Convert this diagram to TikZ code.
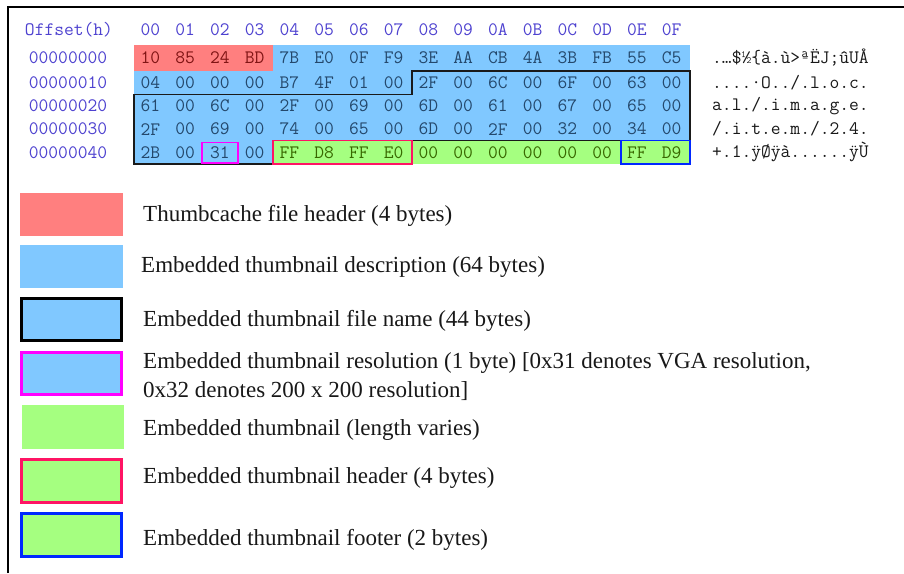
\documentclass[tikz,border=0pt]{standalone}
\usepackage{fontspec}
\setmainfont{Liberation Serif}
\definecolor{hdrblue}{RGB}{78,66,208}
\definecolor{redfill}{RGB}{255,127,127}
\definecolor{bluefill}{RGB}{128,200,255}
\definecolor{greenfill}{RGB}{165,255,128}
\definecolor{txtblue}{RGB}{36,72,108}
\definecolor{txtred}{RGB}{128,20,20}
\definecolor{txtgreen}{RGB}{56,104,0}
\definecolor{magentab}{RGB}{255,0,255}
\definecolor{crimsonb}{RGB}{255,20,100}
\definecolor{footb}{RGB}{0,40,255}
\definecolor{outlineb}{RGB}{26,26,26}
\definecolor{legtext}{RGB}{24,24,24}
\tikzset{
  x=1pt,y=-1pt,
  hex/.style={inner sep=0pt,font=\ttfamily\fontsize{19}{19}\selectfont},
  hdr/.style={hex,text=hdrblue},
  asc/.style={inner sep=0pt,anchor=west,text=legtext,font=\ttfamily\fontsize{19}{19}\selectfont\addfontfeature{LetterSpace=7}},
  offs/.style={inner sep=0pt,text=hdrblue,font=\ttfamily\fontsize{19}{19}\selectfont\addfontfeature{LetterSpace=7}},
  legbox/.style={line width=3pt},
  legtxt/.style={inner sep=0pt,anchor=base west,text=legtext,font=\fontsize{23}{29}\selectfont},
}
\begin{document}
\begin{tikzpicture}
\useasboundingbox (0,0) rectangle (904,573);
\fill[white] (0,0) rectangle (904,573);
% frame
\draw[line width=2pt,black] (8,573) -- (8,7) -- (904,7);
% region fills
\fill[redfill] (134,45) rectangle (273,71);
\fill[bluefill] (273,45) rectangle (690,71);
\fill[bluefill] (134,71) rectangle (690,140.75);
\fill[bluefill] (134,140.75) rectangle (273,164);
\fill[greenfill] (273,140.75) rectangle (690,164);
% outlines
\draw[outlineb,line width=1.4pt] (412,71) -- (690,71) -- (690,140.75) -- (273,140.75) -- (273,164) -- (134,164) -- (134,94.25) -- (412,94.25) -- cycle;
\draw[magentab,line width=1.4pt] (202,142.5) rectangle (238,163);
\draw[crimsonb,line width=1.4pt] (273,140.75) rectangle (412,164);
\draw[footb,line width=1.4pt] (621,140.75) rectangle (690,164);
% header
\node[offs] (offh) at (69,30) {Offset(h)};
\foreach \h [count=\c from 0] in {00,01,02,03,04,05,06,07,08,09,0A,0B,0C,0D,0E,0F}
  \node[hdr] (h\c) at ({134+34.75*(\c+0.5)-1},30) {\h};
% bytes
\foreach \r/\y/\bytes in {
  0/58/{10,85,24,BD,7B,E0,0F,F9,3E,AA,CB,4A,3B,FB,55,C5},
  1/82.6/{04,00,00,00,B7,4F,01,00,2F,00,6C,00,6F,00,63,00},
  2/105.9/{61,00,6C,00,2F,00,69,00,6D,00,61,00,67,00,65,00},
  3/129.1/{2F,00,69,00,74,00,65,00,6D,00,2F,00,32,00,34,00},
  4/152.4/{2B,00,31,00,FF,D8,FF,E0,00,00,00,00,00,00,FF,D9}}{
  \node[offs] (off\r) at (68,\y) {000000\r0};
  \foreach \b [count=\c from 0] in \bytes {
    \ifnum\r=0
      \ifnum\c<4 \def\tc{txtred}\else\def\tc{txtblue}\fi
    \else
      \ifnum\r=4
        \ifnum\c>3 \def\tc{txtgreen}\else\def\tc{txtblue}\fi
      \else\def\tc{txtblue}\fi
    \fi
    \node[hex,text=\tc] (b\r-\c) at ({134+34.75*(\c+0.5)-1},\y) {\b};
  }
}
% ascii column
\node[asc] (asc0) at (712,58) {.…\$½\{à.ù>ªËJ;ûUÅ};
\node[asc] (asc1) at (712,82.6) {....·O../.l.o.c.};
\node[asc] (asc2) at (712,105.9) {a.l./.i.m.a.g.e.};
\node[asc] (asc3) at (712,129.1) {/.i.t.e.m./.2.4.};
\node[asc] (asc4) at (712,152.4) {+.1.ÿØÿà......ÿÙ};
% legend boxes
\fill[redfill] (20,193) rectangle (123,236);
\fill[bluefill] (20,245) rectangle (123,288);
\draw[legbox,fill=bluefill,draw=black] (21.5,298.5) rectangle (121.5,340.5);
\draw[legbox,fill=bluefill,draw=magentab] (21.5,352.5) rectangle (121.5,394.5);
\fill[greenfill] (22,405) rectangle (124,449);
\draw[legbox,fill=greenfill,draw=crimsonb] (21.5,459.5) rectangle (121.5,502.5);
\draw[legbox,fill=greenfill,draw=footb] (21.5,513.5) rectangle (121.5,556.5);
% legend texts
\node[legtxt] (l1) at (143,221) {Thumbcache file header (4 bytes)};
\node[legtxt] (l2) at (141,272) {Embedded thumbnail description (64 bytes)};
\node[legtxt] (l3) at (143,326) {Embedded thumbnail file name (44 bytes)};
\node[legtxt] (l4) at (143,368) {Embedded thumbnail resolution (1 byte) [0x31 denotes VGA resolution,};
\node[legtxt] (l4b) at (143,397) {0x32 denotes 200 x 200 resolution]};
\node[legtxt] (l5) at (143,435) {Embedded thumbnail (length varies)};
\node[legtxt] (l6) at (143,483) {Embedded thumbnail header (4 bytes)};
\node[legtxt] (l7) at (143,545) {Embedded thumbnail footer (2 bytes)};
\end{tikzpicture}
\end{document}
